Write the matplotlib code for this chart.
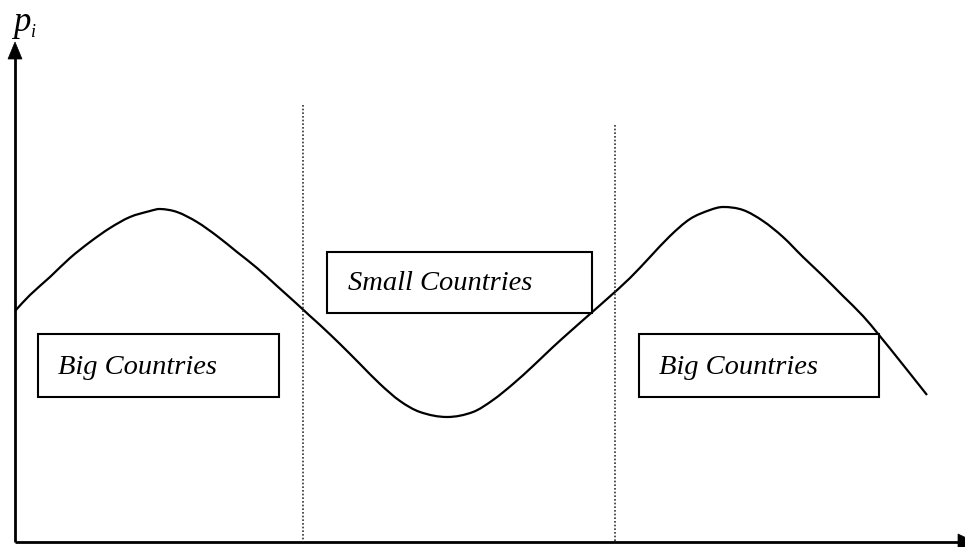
import matplotlib
matplotlib.use("Agg")
import matplotlib.pyplot as plt
from matplotlib.patches import Rectangle, Polygon, PathPatch
from matplotlib.path import Path

# Curve (pixel-based data units, y downward)
curve_x = [15, 30, 50, 70, 90, 110, 130, 150, 160, 177, 197, 217, 237, 257, 277, 297,
           310, 320, 340, 360, 380, 400, 420, 447, 473, 493, 513, 533, 553, 573, 590,
           607, 630, 650, 670, 690, 710, 723, 743, 763, 783, 803, 823, 843, 863, 879,
           900, 927]
curve_y = [311, 295, 277, 258, 242, 228, 217, 211, 209, 212, 222, 236, 252, 268, 286, 304,
           316, 325, 344, 364, 384, 401, 412, 417, 412, 400, 384, 366, 347, 329, 314,
           299, 278, 257, 236, 219, 210, 207, 210, 221, 237, 257, 276, 296, 316, 335,
           361, 395]

# Region boundaries (dotted lines): x position and top
divider_x = [303, 615]
divider_top = [105, 125]

# Labels
box_labels = ["Big Countries", "Small Countries", "Big Countries"]

W, H = 965, 547
fig = plt.figure(figsize=(W / 100, H / 100), dpi=100)
ax = fig.add_axes([0, 0, 1, 1])
ax.set_xlim(0, W)
ax.set_ylim(H, 0)
ax.axis("off")

serif = "Liberation Serif"

# axes
x0, yb = 15, 542
ax.plot([x0, x0], [yb, 56], color="black", lw=2.0, solid_capstyle="butt")
ax.plot([x0, 960], [yb, yb], color="black", lw=2.0, solid_capstyle="butt")
ax.add_patch(Polygon([[x0, 42], [x0 - 7, 59], [x0 + 7, 59]], closed=True,
                     facecolor="black", edgecolor="black", lw=0.5))
ax.add_patch(Polygon([[975, yb], [958, yb - 8], [958, yb + 8]], closed=True,
                     facecolor="black", edgecolor="black", lw=0.5, clip_on=False))

# axis label p_i
ax.text(13, 31, "p", fontfamily=serif, fontstyle="italic", fontsize=25,
        ha="left", va="baseline")
ax.text(31, 37, "i", fontfamily=serif, fontstyle="italic", fontsize=13,
        ha="left", va="baseline")

# dotted dividers
for dx, dt in zip(divider_x, divider_top):
    ax.plot([dx, dx], [dt, yb], color="#333333", lw=1.2, linestyle=(0, (1, 1.2)))

# curve: smooth Hermite path (in x) through the read points
n = len(curve_x)
slopes = []
for i in range(n):
    a = max(i - 1, 0)
    b = min(i + 1, n - 1)
    slopes.append((curve_y[b] - curve_y[a]) / (curve_x[b] - curve_x[a]))
verts = [(curve_x[0], curve_y[0])]
codes = [Path.MOVETO]
for i in range(n - 1):
    h = curve_x[i + 1] - curve_x[i]
    c1 = (curve_x[i] + h / 3, curve_y[i] + slopes[i] * h / 3)
    c2 = (curve_x[i + 1] - h / 3, curve_y[i + 1] - slopes[i + 1] * h / 3)
    verts += [c1, c2, (curve_x[i + 1], curve_y[i + 1])]
    codes += [Path.CURVE4] * 3
ax.add_patch(PathPatch(Path(verts, codes), facecolor="none", edgecolor="black",
                       lw=1.6))

# boxes (x0, y0, x1, y1) and text anchors
boxes = [(38, 334, 279, 397), (327, 252, 592, 313), (639, 334, 879, 397)]
text_pos = [(58, 367), (348, 283), (659, 367)]
for (bx0, by0, bx1, by1), (tx, ty), lab in zip(boxes, text_pos, box_labels):
    ax.add_patch(Rectangle((bx0, by0), bx1 - bx0, by1 - by0, facecolor="white",
                           edgecolor="black", lw=1.5, zorder=3))
    ax.text(tx, ty, lab, fontfamily=serif, fontstyle="italic", fontsize=20.5,
            ha="left", va="center", zorder=4)

fig.savefig("out.png", dpi=100)
